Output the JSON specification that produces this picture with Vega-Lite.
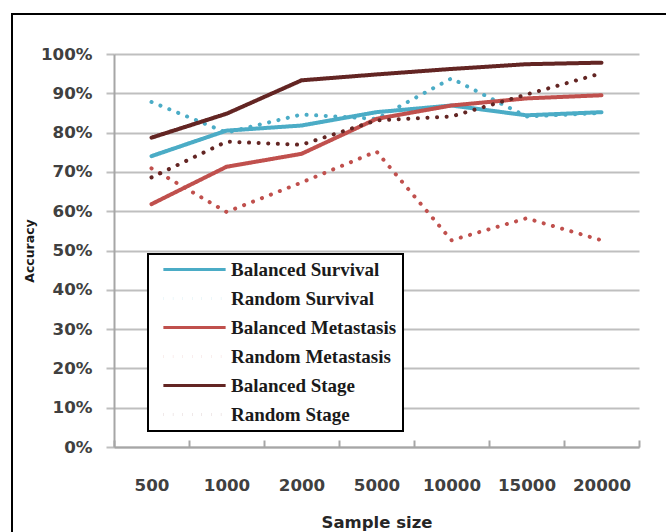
{
  "$schema": "https://vega.github.io/schema/vega-lite/v6.json",
  "width": 655,
  "height": 519,
  "autosize": {"type": "none"},
  "padding": {"left": 12, "top": 14, "right": -1, "bottom": -1},
  "background": "white",
  "config": {
    "view": {"stroke": "black", "strokeWidth": 2},
    "legend": {
      "orient": "none",
      "legendX": 136,
      "legendY": 240,
      "strokeColor": "black",
      "strokeWidth": 2,
      "fillColor": "white",
      "padding": 6,
      "symbolType": "M-5,0H5",
      "symbolSize": 155,
      "symbolStrokeWidth": 3,
      "symbolOffset": 31,
      "labelOffset": 27,
      "labelFont": "Liberation Serif",
      "labelFontWeight": "bold",
      "labelFontSize": 19,
      "labelColor": "#1a1a1a",
      "labelLimit": 300,
      "rowPadding": 9
    }
  },
  "data": {
    "values": [
      {"size": "500", "series": "Balanced Survival", "acc": 0.740},
      {"size": "1000", "series": "Balanced Survival", "acc": 0.805},
      {"size": "2000", "series": "Balanced Survival", "acc": 0.818},
      {"size": "5000", "series": "Balanced Survival", "acc": 0.852},
      {"size": "10000", "series": "Balanced Survival", "acc": 0.869},
      {"size": "15000", "series": "Balanced Survival", "acc": 0.844},
      {"size": "20000", "series": "Balanced Survival", "acc": 0.852},
      {"size": "500", "series": "Random Survival", "acc": 0.878},
      {"size": "1000", "series": "Random Survival", "acc": 0.800},
      {"size": "2000", "series": "Random Survival", "acc": 0.846},
      {"size": "5000", "series": "Random Survival", "acc": 0.835},
      {"size": "10000", "series": "Random Survival", "acc": 0.938},
      {"size": "15000", "series": "Random Survival", "acc": 0.841},
      {"size": "20000", "series": "Random Survival", "acc": 0.850},
      {"size": "500", "series": "Balanced Metastasis", "acc": 0.618},
      {"size": "1000", "series": "Balanced Metastasis", "acc": 0.713},
      {"size": "2000", "series": "Balanced Metastasis", "acc": 0.746},
      {"size": "5000", "series": "Balanced Metastasis", "acc": 0.835},
      {"size": "10000", "series": "Balanced Metastasis", "acc": 0.869},
      {"size": "15000", "series": "Balanced Metastasis", "acc": 0.887},
      {"size": "20000", "series": "Balanced Metastasis", "acc": 0.895},
      {"size": "500", "series": "Random Metastasis", "acc": 0.709},
      {"size": "1000", "series": "Random Metastasis", "acc": 0.598},
      {"size": "2000", "series": "Random Metastasis", "acc": 0.673},
      {"size": "5000", "series": "Random Metastasis", "acc": 0.752},
      {"size": "10000", "series": "Random Metastasis", "acc": 0.526},
      {"size": "15000", "series": "Random Metastasis", "acc": 0.582},
      {"size": "20000", "series": "Random Metastasis", "acc": 0.526},
      {"size": "500", "series": "Balanced Stage", "acc": 0.787},
      {"size": "1000", "series": "Balanced Stage", "acc": 0.848},
      {"size": "2000", "series": "Balanced Stage", "acc": 0.933},
      {"size": "5000", "series": "Balanced Stage", "acc": 0.948},
      {"size": "10000", "series": "Balanced Stage", "acc": 0.962},
      {"size": "15000", "series": "Balanced Stage", "acc": 0.974},
      {"size": "20000", "series": "Balanced Stage", "acc": 0.978},
      {"size": "500", "series": "Random Stage", "acc": 0.686},
      {"size": "1000", "series": "Random Stage", "acc": 0.777},
      {"size": "2000", "series": "Random Stage", "acc": 0.769},
      {"size": "5000", "series": "Random Stage", "acc": 0.831},
      {"size": "10000", "series": "Random Stage", "acc": 0.841},
      {"size": "15000", "series": "Random Stage", "acc": 0.897},
      {"size": "20000", "series": "Random Stage", "acc": 0.951}
    ]
  },
  "mark": {"type": "line", "strokeWidth": 4, "strokeCap": "round"},
  "encoding": {
    "x": {
      "field": "size",
      "type": "nominal",
      "sort": ["500", "1000", "2000", "5000", "10000", "15000", "20000"],
      "scale": {"type": "band", "paddingInner": 0, "paddingOuter": 0, "range": [102, 627]},
      "axis": {
        "title": "Sample size",
        "labelAngle": 0,
        "tickBand": "extent",
        "tickSize": -7,
        "tickColor": "#a6a6a6",
        "tickWidth": 2,
        "domainColor": "#a6a6a6",
        "domainWidth": 2,
        "offset": -86,
        "grid": false,
        "labelPadding": 37,
        "labelFont": "DejaVu Sans",
        "labelFontWeight": "bold",
        "labelFontSize": 16.7,
        "labelColor": "#404040",
        "titleFont": "DejaVu Sans",
        "titleFontWeight": "bold",
        "titleFontSize": 16.5,
        "titleColor": "#262626",
        "titlePadding": 21
      }
    },
    "y": {
      "field": "acc",
      "type": "quantitative",
      "scale": {"domain": [0, 1], "range": [433, 40]},
      "axis": {
        "title": "Accuracy",
        "values": [0, 0.1, 0.2, 0.3, 0.4, 0.5, 0.6, 0.7, 0.8, 0.9, 1],
        "format": ".0%",
        "offset": -102,
        "tickSize": 8,
        "tickColor": "#bfbfbf",
        "tickWidth": 2,
        "domainColor": "#a6a6a6",
        "domainWidth": 2,
        "grid": true,
        "gridColor": "#bfbfbf",
        "gridWidth": 2,
        "labelPadding": 14,
        "labelFont": "DejaVu Sans",
        "labelFontWeight": "bold",
        "labelFontSize": 16.7,
        "labelColor": "#404040",
        "titleFont": "DejaVu Sans",
        "titleFontWeight": "bold",
        "titleFontSize": 12.5,
        "titleColor": "#1a1a1a",
        "titlePadding": 4
      }
    },
    "color": {
      "field": "series",
      "type": "nominal",
      "scale": {
        "domain": ["Balanced Survival", "Random Survival", "Balanced Metastasis", "Random Metastasis", "Balanced Stage", "Random Stage"],
        "range": ["#4BACC6", "#4BACC6", "#C0504D", "#C0504D", "#632523", "#632523"]
      },
      "legend": {"title": null}
    },
    "strokeDash": {
      "field": "series",
      "type": "nominal",
      "scale": {
        "domain": ["Balanced Survival", "Random Survival", "Balanced Metastasis", "Random Metastasis", "Balanced Stage", "Random Stage"],
        "range": [[1, 0], [0.1, 9.5], [1, 0], [0.1, 9.5], [1, 0], [0.1, 9.5]]
      },
      "legend": {"title": null}
    }
  }
}
